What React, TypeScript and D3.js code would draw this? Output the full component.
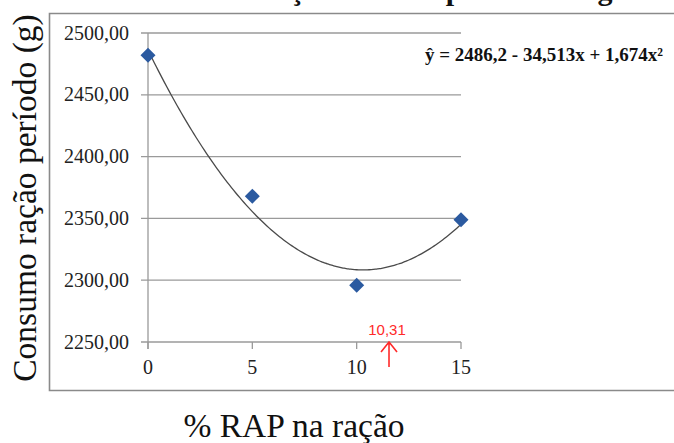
import React from "react";
import * as d3 from "d3";

const xValues = [0, 5, 10, 15];
const yValues = [2482, 2368, 2296, 2349];
const xTicks = [0, 5, 10, 15];
const yTicks = [2250, 2300, 2350, 2400, 2450, 2500];
const coefA = 2486.2;
const coefB = -34.513;
const coefC = 1.674;
const annotationLabel = "10,31";
const annotationX = 11.55;
const titleText = "Consumo de ração total do período em g/ave";
const equationText = "ŷ = 2486,2 - 34,513x + 1,674x²";
const yLabel = "Consumo ração período (g)";
const xLabel = "% RAP na ração";

const W = 674;
const H = 443;

export default function App() {
  const x = d3.scaleLinear().domain([0, 15]).range([148, 461]);
  const y = d3.scaleLinear().domain([2250, 2500]).range([342, 33]);
  const fmt = (v: number) => v.toFixed(2).replace(".", ",");
  const curvePts = d3.range(0, 15.001, 0.1).map((t) => [t, coefA + coefB * t + coefC * t * t] as [number, number]);
  const line = d3
    .line<[number, number]>()
    .x((d) => x(d[0]))
    .y((d) => y(d[1]))
    .curve(d3.curveMonotoneX);
  const serif = "'Liberation Serif', 'Times New Roman', serif";
  const ax = x(annotationX);
  const ay = y(2250);
  return (
    <svg
      width={W}
      height={H}
      style={{ position: "absolute", left: 0, top: 0, background: "#fff" }}
    >
      <rect x={0} y={0} width={W} height={H} fill="#fff" />
      <text x={95} y={0} fontFamily={serif} fontWeight="bold" fontSize={30} fill="#111">
        {titleText}
      </text>
      {/* frame */}
      <path d={`M${W + 2},13.5 H49.5 V390.5 H${W + 2}`} fill="none" stroke="#8a8a8a" strokeWidth={1.6} />
      {/* gridlines */}
      {yTicks.map((t) => (
        <line key={t} x1={141} x2={x(15)} y1={y(t)} y2={y(t)} stroke="#9a9a9a" strokeWidth={1.3} />
      ))}
      {/* axes */}
      <line x1={x(0)} x2={x(0)} y1={y(2500)} y2={y(2250) + 7} stroke="#9a9a9a" strokeWidth={1.3} />
      {xTicks.map((t) => (
        <line key={t} x1={x(t)} x2={x(t)} y1={y(2250)} y2={y(2250) + 7} stroke="#9a9a9a" strokeWidth={1.3} />
      ))}
      {yTicks.map((t) => (
        <text key={t} x={129} y={y(t) + 6.5} textAnchor="end" fontFamily={serif} fontSize={20} fill="#222">
          {fmt(t)}
        </text>
      ))}
      {xTicks.map((t) => (
        <text key={t} x={x(t)} y={374} textAnchor="middle" fontFamily={serif} fontSize={20} fill="#222">
          {t}
        </text>
      ))}
      {/* trend curve */}
      <path d={line(curvePts) || ""} fill="none" stroke="#4a4a4a" strokeWidth={1.3} />
      {/* points */}
      {xValues.map((v, i) => {
        const cx = x(v);
        const cy = y(yValues[i]);
        const r = 7.5;
        return (
          <path
            key={i}
            d={`M${cx},${cy - r} L${cx + r},${cy} L${cx},${cy + r} L${cx - r},${cy} Z`}
            fill="#2b5aa0"
          />
        );
      })}
      {/* equation */}
      <text x={425} y={61} fontFamily={serif} fontWeight="bold" fontSize={19} fill="#111">
        {equationText}
      </text>
      {/* annotation */}
      <text x={ax - 2} y={335} textAnchor="middle" fontFamily="'Liberation Sans', Arial, sans-serif" fontSize={15} fill="#ff2a2a">
        {annotationLabel}
      </text>
      <path
        d={`M${ax},${ay + 25} V${ay} M${ax - 8},${ay + 10} L${ax},${ay} L${ax + 8},${ay + 10}`}
        fill="none"
        stroke="#ff2a2a"
        strokeWidth={1.6}
      />
      {/* axis titles */}
      <text
        transform={`translate(36,198) rotate(-90)`}
        textAnchor="middle"
        fontFamily={serif}
        fontSize={33.5}
        fill="#111"
      >
        {yLabel}
      </text>
      <text x={294} y={437} textAnchor="middle" fontFamily={serif} fontSize={33.5} fill="#111">
        {xLabel}
      </text>
    </svg>
  );
}
